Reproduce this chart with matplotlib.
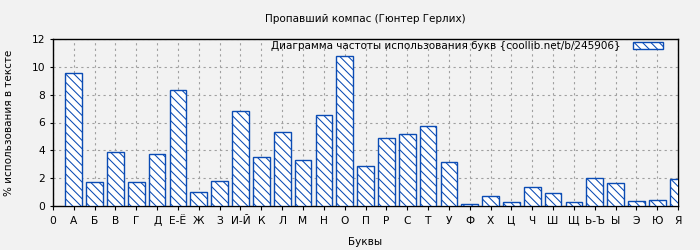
import matplotlib
matplotlib.use("Agg")
import matplotlib.pyplot as plt

letters = ["А", "Б", "В", "Г", "Д", "Е-Ё", "Ж", "З", "И-Й", "К", "Л", "М", "Н", "О", "П",
           "Р", "С", "Т", "У", "Ф", "Х", "Ц", "Ч", "Ш", "Щ", "Ь-Ъ", "Ы", "Э", "Ю", "Я"]
values = [9.55, 1.70, 3.86, 1.70, 3.72, 8.32, 0.98, 1.78, 6.81, 3.50, 5.30, 3.29, 6.53, 10.77, 2.86,
          4.87, 5.16, 5.73, 3.14, 0.12, 0.70, 0.27, 1.35, 0.91, 0.27, 1.99, 1.63, 0.34, 0.41, 1.92]
tick_labels = ["0"] + letters
title = "Пропавший компас (Гюнтер Герлих)"
legend_label = "Диаграмма частоты использования букв {coollib.net/b/245906}"

plt.rcParams['font.family'] = ['DejaVu Sans']
plt.rcParams['hatch.color'] = '#0a4bb4'
plt.rcParams['hatch.linewidth'] = 0.75

bg = '#f2f2f2'
fig = plt.figure(figsize=(7, 2.5), dpi=100, facecolor=bg)
ax = fig.add_axes([0.0757, 0.176, 0.8929, 0.668])
ax.set_facecolor(bg)

x = list(range(1, len(letters) + 1))
ax.bar(x, values, width=0.8, facecolor='white', edgecolor='#0a4bb4', hatch='\\\\\\\\',
       linewidth=1.0, label=legend_label, zorder=3)

ax.set_xlim(0, 30)
ax.set_ylim(0, 12)
ax.set_xticks(range(0, 31))
ax.set_xticklabels(tick_labels, fontsize=7.7)
ax.set_yticks(range(0, 13, 2))
ax.tick_params(axis='y', labelsize=7.7, length=2)
ax.tick_params(axis='x', length=3, pad=4)
ax.grid(True, color='#a0a0a0', linestyle=(0, (2, 3)), linewidth=0.8, zorder=0)
for s in ax.spines.values():
    s.set_color('black')
    s.set_linewidth(1.0)

ax.set_title(title, fontsize=7.5, pad=12.5)
ax.set_xlabel("Буквы", fontsize=7.5, labelpad=8)
ax.set_ylabel("% использования в тексте", fontsize=7.5)
ax.yaxis.set_label_coords(-0.063, 0.5)

leg = ax.legend(loc='upper right', frameon=False, fontsize=7.5, markerfirst=False,
                borderaxespad=0.0, handlelength=2.9, handleheight=0.6, borderpad=0.2,
                handletextpad=1.2, bbox_to_anchor=(0.98, 1.0))

fig.savefig("out.png", dpi=100, facecolor=bg)
